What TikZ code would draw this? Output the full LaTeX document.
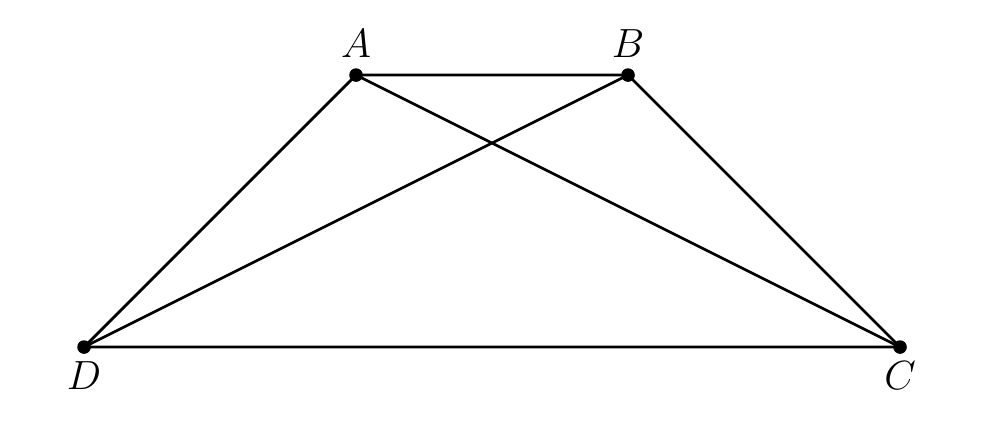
\documentclass[tikz,border=0pt]{standalone}
\begin{document}
\begin{tikzpicture}[x=80pt,y=80pt,line width=0.8pt,
  pt/.style={circle,fill=black,inner sep=0pt,minimum size=4pt},
  every label/.style={inner sep=0pt,font=\fontsize{11.5}{13}\selectfont}]
\useasboundingbox (-0.309,-0.324) rectangle (3.305,1.276);
\node[pt,label={[label distance=2.3pt]above:$A$}] (A) at (1,1) {};
\node[pt,label={[label distance=2.3pt]above:$B$}] (B) at (2,1) {};
\node[pt,label={[label distance=1.6pt]below:$C$}] (C) at (3,0) {};
\node[pt,label={[label distance=1.6pt]below:$D$}] (D) at (0,0) {};
\draw (A.center) -- (B.center) -- (C.center) -- (D.center) -- cycle;
\draw (A.center) -- (C.center);
\draw (B.center) -- (D.center);
\end{tikzpicture}
\end{document}
